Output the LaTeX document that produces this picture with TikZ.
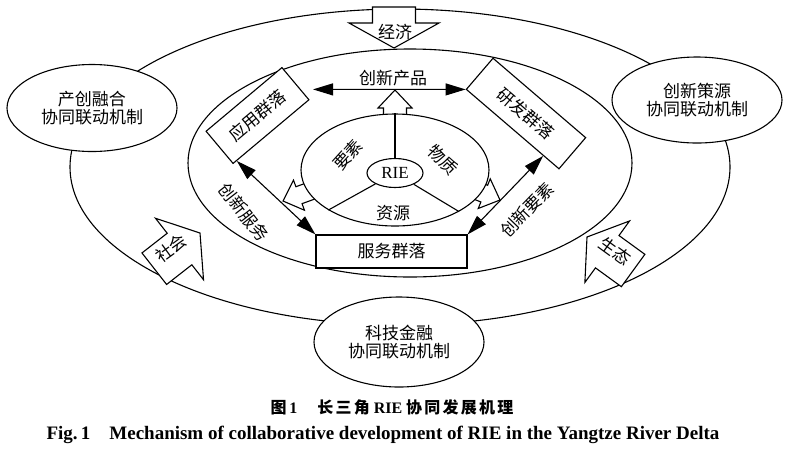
\documentclass[tikz,border=0pt]{standalone}
\usepackage{fontspec}
\setmainfont{Liberation Serif}
\newfontfamily\cjk{Noto Sans CJK SC}
\newfontfamily\cjkcap{Noto Sans CJK SC}[LetterSpace=14]
\usetikzlibrary{arrows.meta,shapes.geometric,calc}
\newcommand{\blockarrowx}[7]{% name, tip, angle, head len, head half, shaft half, total len
  \draw[blk,shift={#2},rotate=#3] (0,0) -- (-#4,#5) -- (-#4,#6) -- (-#7,#6) -- (-#7,-#6) -- (-#4,-#6) -- (-#4,-#5) -- cycle;
  \coordinate (#1) at #2;}
\begin{document}
\begin{tikzpicture}[x=1pt,y=-1pt,line width=1.1pt,
  lab/.style={font=\cjk\fontsize{17}{18}\selectfont, inner sep=0pt},
  box/.style={draw, fill=white, inner sep=0pt, lab},
  oval/.style={draw, fill=white, ellipse, inner sep=0pt, align=center, lab},
  ring/.style={draw, ellipse, inner sep=0pt},
  dbl/.style={{Triangle[length=20pt,width=12pt]}-{Triangle[length=20pt,width=12pt]}},
  blk/.style={draw, fill=white, line join=miter}]
\useasboundingbox (0,0) rectangle (800,451);
% rings
\node[ring, minimum width=660pt, minimum height=316pt] (outer) at (400,167) {};
\node[ring, minimum width=444pt, minimum height=228pt] (mid) at (410,163) {};
% hollow arrows sitting on the inner ring (tails hidden by the ring)
\blockarrowx{up}{(395,90)}{90}{18}{17}{11.5}{34}
\blockarrowx{hl}{(283,201)}{200}{17}{16}{9}{34}
\blockarrowx{hr}{(500,200)}{-22}{17}{16}{9}{34}
\node[ring, fill=white, minimum width=188pt, minimum height=112pt] (inn) at (395,170) {};
\node[ring, minimum width=56pt, minimum height=29pt, font=\fontsize{17}{20}\selectfont] (rie) at (395,173) {RIE};
\draw (rie.north) -- (inn.north);
\draw (rie) -- (inn.211);
\draw (rie) -- (inn.327);
% mechanism ellipses
\node[oval, minimum width=170pt, minimum height=87pt] (cy) at (92,108) {产创融合\\协同联动机制};
\node[oval, minimum width=170pt, minimum height=86pt] (cx) at (697,100) {创新策源\\协同联动机制};
\node[oval, minimum width=170pt, minimum height=90pt] (kj) at (399,342) {科技金融\\协同联动机制};
% block arrows on the outer ring
\blockarrowx{jj}{(394,48)}{-90}{25}{45}{21.5}{41}
\blockarrowx{sh}{(200,233)}{38}{26}{39}{20}{58}
\blockarrowx{st}{(587,237)}{144}{25}{38}{20}{57}
\node[lab] (tjj) at (395,32) {经济};
\node[lab, rotate=36] (tsh) at (171,248) {社会};
\node[lab, rotate=-36] (tst) at (615,251) {生态};
% boxes
\node[box, rotate=40, minimum width=99pt, minimum height=42pt] (yy) at (257.5,115.5) {应用群落};
\node[box, rotate=-40.6, minimum width=122pt, minimum height=41pt] (yf) at (526,113.5) {研发群落};
\node[box, minimum width=151pt, minimum height=33pt] (fw) at (391.5,251.5) {服务群落};
% connectors
\coordinate (cpL) at (313,89.4);
\draw[dbl] (cpL) -- (yf.south west);
\draw[dbl] ($(yy.south west)!0.05!(yy.south east)$) -- (fw.north west);
\draw[dbl] (fw.north east) -- ($(yf.south west)!0.83!(yf.south east)$);
% labels
\node[lab] (tcp) at (393,78) {创新产品};
\node[lab, rotate=48] (tys) at (348,155) {要素};
\node[lab, rotate=-45] (twz) at (443,160) {物质};
\node[lab] (tzy) at (393,213) {资源};
\node[lab, rotate=-52] (tfw) at (244,212) {创新服务};
\node[lab, rotate=46] (tyss) at (527,210) {创新要素};
% captions
\node[font=\bfseries\fontsize{16}{18}\selectfont, inner sep=0pt] (cap1) at (392,407) {{\cjkcap 图}\,1\quad\ {\cjkcap 长三角}\ RIE\ {\cjkcap 协同发展机理}};
\node[font=\bfseries\fontsize{19}{20}\selectfont, inner sep=0pt] (cap2) at (383,435) {Fig.\,1\quad Mechanism of collaborative development of RIE in the Yangtze River Delta};
\end{tikzpicture}
\end{document}
